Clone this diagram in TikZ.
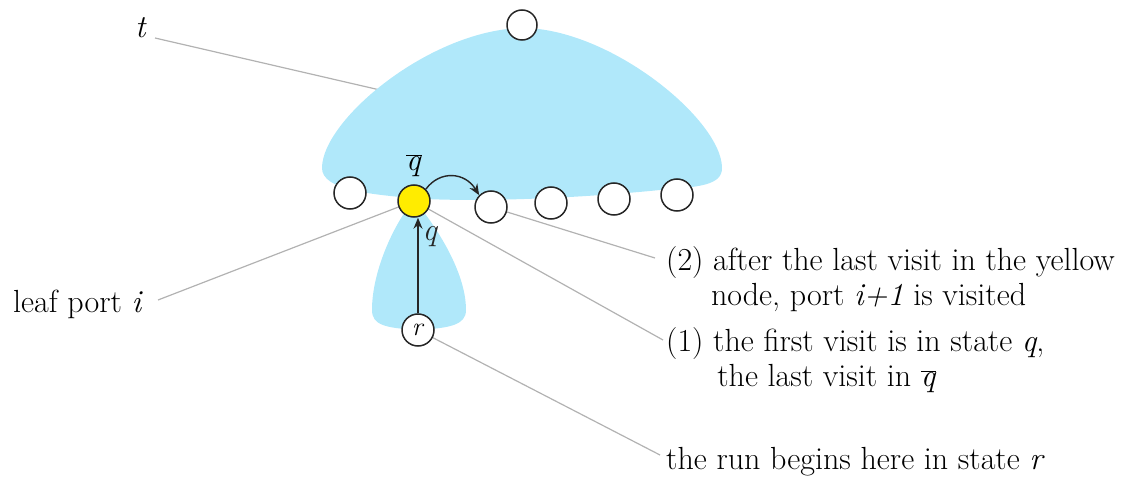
\documentclass[tikz,border=0pt]{standalone}
\usetikzlibrary{arrows.meta}
\definecolor{capblue}{RGB}{176,232,250}
\definecolor{portyellow}{RGB}{255,236,0}
\newcommand{\qbarr}{$\overline{\mbox{\textit{q}}}$}
\begin{document}
\begin{tikzpicture}[x=1pt,y=-1pt,
  port/.style={circle,draw=black!85,line width=1.5pt,fill=white,minimum size=32pt,inner sep=0pt},
  yport/.style={port,fill=portyellow},
  lead/.style={draw=black!30,line width=1.2pt},
  lbl/.style={font=\fontsize{32}{35}\selectfont,inner sep=0pt},
  arr/.style={-{Stealth[length=11pt,width=9pt]},line width=1.4pt,black!85}]
\useasboundingbox (0,0) rectangle (1141,484);
% label nodes
\node[lbl,anchor=east] (tl) at (147,28) {\textit{t}};
\node[lbl,anchor=east] (leaf) at (143,304) {leaf port \textit{i}};
\node[lbl,anchor=west,align=left] (c2) at (666,279) {(2) after the last visit in the yellow\\\hspace{1.4em}node, port \textit{i+1} is visited};
\node[lbl,anchor=west,align=left] (c1) at (666,360) {(1) the first visit is in state \textit{q},\\\hspace{1.6em}the last visit in \qbarr};
\node[lbl,anchor=west] (c3) at (666,462) {the run begins here in state \textit{r}};
% coordinates
\coordinate (tend) at (380,90);
\coordinate (ye) at (414,201);
% leader lines (under the fills)
\draw[lead] (155,38) -- (tend);
\draw[lead] (158,300) -- (ye);
\draw[lead] (ye) -- (663,340);
\draw[lead] (491,207) -- (655,258);
\draw[lead] (418,330) -- (660,455);
% blue shapes
\fill[capblue] (322,168) .. controls (322,120) and (430,30) .. (522,28)
  .. controls (610,28) and (722,120) .. (722,168)
  .. controls (722,185) and (700,187) .. (660,190)
  .. controls (560,200) and (460,202) .. (410,198)
  .. controls (370,194) and (322,190) .. (322,168) -- cycle;
\fill[capblue] (414,200) .. controls (395,222) and (372,270) .. (372,310)
  .. controls (372,325) and (385,328) .. (418,330)
  .. controls (450,328) and (466,325) .. (466,310)
  .. controls (466,270) and (433,222) .. (414,200) -- cycle;
% port nodes
\node[port,minimum size=30pt] (top) at (522,25) {};
\node[port] (p0) at (350,193) {};
\node[yport] (y) at (414,201) {};
\node[port] (p1) at (491,207) {};
\node[port] (p2) at (551,203) {};
\node[port] (p3) at (614,199) {};
\node[port] (p4) at (677,195) {};
\node[port,font=\fontsize{26}{30}\selectfont] (r) at (418,330) {\textit{r}};
% arrows
\draw[arr] (r.north) -- node[right=4pt,lbl,pos=0.8]{\textit{q}} (r.north |- y.south);
\draw[arr] (y.north east) .. controls (440,170) and (465,172) .. (p1.north west);
\node[lbl] (qb) at (414,166) {\qbarr};
\end{tikzpicture}
\end{document}
